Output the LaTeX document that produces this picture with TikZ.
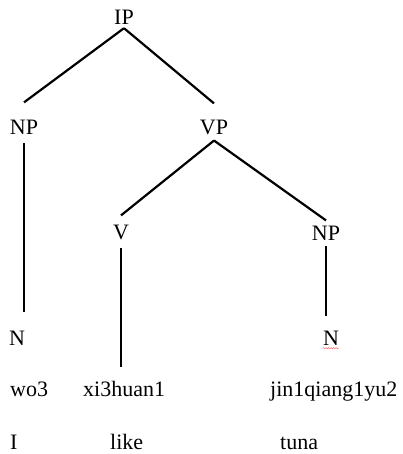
\documentclass[tikz,border=0pt]{standalone}
\usepackage{fontspec}
\setmainfont{Liberation Serif}
\usetikzlibrary{decorations.pathmorphing}

\tikzset{
  lbl/.style={inner sep=0pt, anchor=base, font=\fontsize{22}{26}\selectfont},
  word/.style={lbl, anchor=base west},
  branch/.style={line width=2.2pt},
}

\begin{document}
\begin{tikzpicture}[x=1pt, y=-1pt]
    \useasboundingbox (0,0) rectangle (403,454);
    % category labels
    \node[lbl] (ip) at (124,25) {IP};
    \node[lbl] (np1) at (24,135) {NP};
    \node[lbl] (vp) at (214,135) {VP};
    \node[lbl] (v) at (121,239) {V};
    \node[lbl] (np2) at (326,240) {NP};
    \node[lbl] (n1) at (17,345) {N};
    \node[lbl] (n2) at (331,345) {N};
    % pinyin and gloss rows
    \node[word] (wo) at (10,396) {wo3};
    \node[word] (xi) at (83,396) {xi3huan1};
    \node[word] (jin) at (270,396) {jin1qiang1yu2};
    \node[word] (gI) at (10,449) {I};
    \node[word] (glike) at (110,449) {like};
    \node[word] (gtuna) at (280,449) {tuna};
    % branches
    \draw[branch] ([yshift=-3pt]ip.south) -- ([yshift=18pt]np1.north);
    \draw[branch] ([yshift=-3pt]ip.south) -- ([yshift=17pt]vp.north);
    \draw[branch] ([yshift=-5pt]vp.south) -- ([yshift=9pt]v.north);
    \draw[branch] ([yshift=-5pt]vp.south) -- ([yshift=5pt]np2.north);
    \draw[branch] ([yshift=-8pt]np1.south) -- ([yshift=18pt]np1.south |- n1.north);
    \draw[branch] ([yshift=-8pt]v.south) -- ([yshift=14pt]v.south |- xi.north);
    \draw[branch] ([yshift=-6pt]np2.south) -- ([yshift=14pt]np2.south |- n2.north);
    % squiggle under the second N
    \draw[red!55, line width=0.5pt, decorate,
          decoration={snake, amplitude=0.7pt, segment length=2.5pt}]
        ([yshift=-3pt]n2.south west) -- ([yshift=-3pt]n2.south east);
\end{tikzpicture}
\end{document}
